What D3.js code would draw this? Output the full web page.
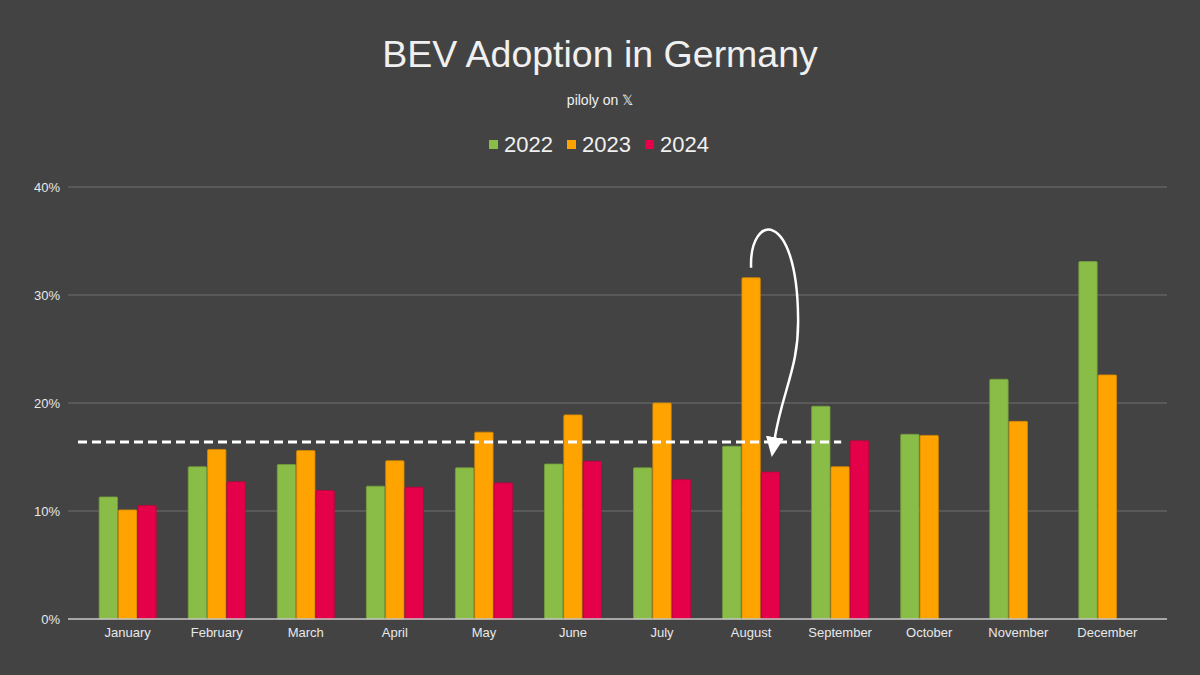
<!DOCTYPE html>
<html lang="en">
<head>
<meta charset="UTF-8">
<title>BEV Adoption in Germany</title>
<script src="https://cdnjs.cloudflare.com/ajax/libs/d3/7.8.5/d3.min.js"></script>
<style>
    html, body {
        margin: 0;
        padding: 0;
        background: #434343;
    }
    svg text {
        font-family: "Liberation Sans", Arial, sans-serif;
    }
</style>
</head>
<body>
<svg id="chart"></svg>
<script>
// data (BEV share of new registrations, %)
const months = ["January", "February", "March", "April", "May", "June",
    "July", "August", "September", "October", "November", "December"];
const years = ["2022", "2023", "2024"];
const share2022 = [11.3, 14.1, 14.3, 12.3, 14.0, 14.35, 14.0, 16.0, 19.7, 17.1, 22.2, 33.1];
const share2023 = [10.1, 15.7, 15.6, 14.65, 17.3, 18.9, 20.0, 31.6, 14.1, 17.0, 18.3, 22.6];
const share2024 = [10.5, 12.7, 11.9, 12.2, 12.6, 14.6, 12.9, 13.6, 16.5];
const yTicks = [0, 10, 20, 30, 40];
const refLevel = 16.4; // dashed reference line

const colors = {"2022": "#8abd47", "2023": "#ffa300", "2024": "#e5004a"};

const W = 1200, H = 675;
const svg = d3.select("#chart").attr("width", W).attr("height", H);

svg.append("rect").attr("width", W).attr("height", H).attr("fill", "#434343");

// scales
const x = d3.scaleBand()
    .domain(months)
    .range([68, 1167])
    .paddingInner(0)
    .paddingOuter(0.17);

const x1 = d3.scaleBand()
    .domain(years)
    .range([-28.5, 28.5])
    .paddingInner(0.05);

const y = d3.scaleLinear()
    .domain([0, 40])
    .range([619, 187]);

// gridlines
svg.append("g")
    .selectAll("line")
    .data(yTicks.filter(d => d > 0))
    .join("line")
    .attr("x1", 68)
    .attr("x2", 1167)
    .attr("y1", d => y(d))
    .attr("y2", d => y(d))
    .attr("stroke", "#606060")
    .attr("stroke-width", 1.3);

// y axis labels
const yAxis = d3.axisLeft(y)
    .tickValues(yTicks)
    .tickFormat(d => d + "%")
    .tickSize(0)
    .tickPadding(8);
const gy = svg.append("g")
    .attr("transform", "translate(68,0)")
    .call(yAxis);
gy.select(".domain").remove();
gy.selectAll("text")
    .attr("fill", "#e8e8e8")
    .style("font-size", "13px")
    .style("font-family", "Liberation Sans, Arial, sans-serif");

// bars
const rows = [];
months.forEach((m, i) => {
    [share2022, share2023, share2024].forEach((arr, k) => {
        if (arr[i] !== undefined) rows.push({month: m, year: years[k], value: arr[i]});
    });
});

svg.append("g")
    .selectAll("rect")
    .data(rows)
    .join("rect")
    .attr("x", d => x(d.month) + x.bandwidth() / 2 + x1(d.year))
    .attr("y", d => y(d.value))
    .attr("width", x1.bandwidth())
    .attr("height", d => y(0) - y(d.value))
    .attr("fill", d => colors[d.year])
    .attr("stroke", d => d3.color(colors[d.year]).darker(0.5))
    .attr("stroke-width", 0.8)
    .attr("rx", 1);

// baseline
svg.append("line")
    .attr("x1", 68)
    .attr("x2", 1167)
    .attr("y1", y(0))
    .attr("y2", y(0))
    .attr("stroke", "#c8c8c8")
    .attr("stroke-width", 1.5);

// x axis labels
const xAxis = d3.axisBottom(x).tickSize(0).tickPadding(9);
const gx = svg.append("g")
    .attr("transform", `translate(0,${y(0)})`)
    .call(xAxis);
gx.select(".domain").remove();
gx.selectAll("text")
    .attr("fill", "#e8e8e8")
    .style("font-size", "13px")
    .style("font-family", "Liberation Sans, Arial, sans-serif");

// dashed reference line
svg.append("line")
    .attr("x1", x.range()[0] + 10)
    .attr("x2", x("September") + x.bandwidth() / 2 + 1)
    .attr("y1", y(refLevel))
    .attr("y2", y(refLevel))
    .attr("stroke", "#ffffff")
    .attr("stroke-width", 3)
    .attr("stroke-dasharray", "9,5");

// curved arrow from August 2023 down to August 2024
const defs = svg.append("defs");
defs.append("marker")
    .attr("id", "arrowhead")
    .attr("viewBox", "0 0 20 18")
    .attr("refX", 3)
    .attr("refY", 9)
    .attr("markerWidth", 20)
    .attr("markerHeight", 18)
    .attr("markerUnits", "userSpaceOnUse")
    .attr("orient", "auto")
    .append("path")
    .attr("d", "M 0 0 L 20 9 L 0 18 z")
    .attr("fill", "#ffffff");

const augX = x("August") + x.bandwidth() / 2;
const ax0 = augX + x1("2023") + x1.bandwidth() / 2;
const ax1 = augX + x1("2024") + x1.bandwidth() / 2;
const ay0 = y(share2023[7]) - 10;
const ay1 = y(share2024[7]) - 32;
const arrowPath = d3.path();
arrowPath.moveTo(ax0, ay0);
arrowPath.bezierCurveTo(ax0 - 2, ay0 - 55, ax0 + 46, ay0 - 60, ax0 + 47, ay0 + 50);
arrowPath.bezierCurveTo(ax0 + 48, ay0 + 100, ax1 + 12, ay1 - 50, ax1 + 4, ay1);
svg.append("path")
    .attr("d", arrowPath.toString())
    .attr("fill", "none")
    .attr("stroke", "#ffffff")
    .attr("stroke-width", 2.5)
    .attr("marker-end", "url(#arrowhead)");

// title and subtitle
svg.append("text")
    .attr("x", W / 2)
    .attr("y", 67)
    .attr("text-anchor", "middle")
    .attr("fill", "#f0f0f0")
    .style("font-size", "37.5px")
    .text("BEV Adoption in Germany");

svg.append("text")
    .attr("x", W / 2)
    .attr("y", 105)
    .attr("text-anchor", "middle")
    .attr("fill", "#f0f0f0")
    .style("font-size", "14px")
    .text("piloly on 𝕏");

// legend
const legendX = [489, 567, 645];
const legend = svg.append("g")
    .selectAll("g")
    .data(years)
    .join("g")
    .attr("transform", (d, i) => `translate(${legendX[i]},0)`);
legend.append("rect")
    .attr("y", 140)
    .attr("width", 9)
    .attr("height", 9)
    .attr("fill", d => colors[d]);
legend.append("text")
    .attr("x", 15)
    .attr("y", 152)
    .attr("fill", "#f0f0f0")
    .style("font-size", "22px")
    .text(d => d);
</script>
</body>
</html>
